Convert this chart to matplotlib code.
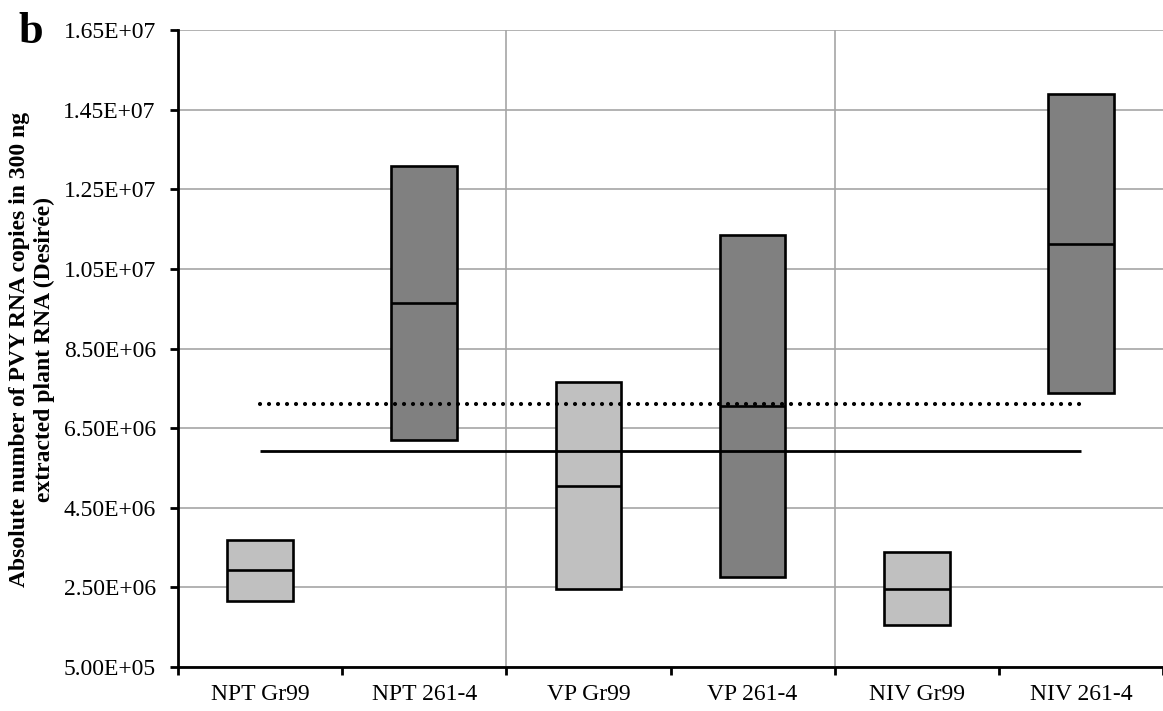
import matplotlib
matplotlib.use('Agg')
import matplotlib.pyplot as plt
import numpy as np

categories = ['NPT Gr99', 'NPT 261-4', 'VP Gr99', 'VP 261-4', 'NIV Gr99', 'NIV 261-4']
q_low = [2.17e6, 6.20e6, 2.47e6, 2.77e6, 1.56e6, 7.38e6]
medians = [2.93e6, 9.65e6, 5.04e6, 7.06e6, 2.46e6, 11.13e6]
q_high = [3.68e6, 13.08e6, 7.66e6, 11.35e6, 3.40e6, 14.88e6]
box_colors = ['#c0c0c0', '#808080', '#c0c0c0', '#808080', '#c0c0c0', '#808080']
dotted_level = 7.10e6
solid_level = 5.92e6
yticks = np.arange(0.5e6, 16.6e6, 2e6)

plt.rcParams['font.family'] = ['Liberation Serif', 'DejaVu Serif']

fig = plt.figure(figsize=(11.63, 7.11), dpi=100)
ax = fig.add_axes([178 / 1163, 1 - 667 / 711, 1 - 178 / 1163, (667 - 30) / 711])

x = np.arange(len(categories)) + 0.5
lo = np.array(q_low)
hi = np.array(q_high)
ax.bar(x, hi - lo, bottom=lo, width=0.40, color=box_colors,
       edgecolor='black', linewidth=1.9, zorder=3)
ax.hlines(medians, x - 0.20, x + 0.20, colors='black', linewidth=1.9, zorder=4)

ax.plot([x[0], x[-1]], [dotted_level, dotted_level], color='black', lw=3.0,
        linestyle=(0, (0.01, 2.15)), dash_capstyle='round', zorder=5)
ax.plot([x[0], x[-1]], [solid_level, solid_level], color='black', lw=2.0,
        solid_capstyle='butt', zorder=5)

ax.set_xlim(0, 6)
ax.set_ylim(0.5e6, 16.5e6)
ax.set_yticks(yticks)
ax.set_yticklabels(['{:.2E}'.format(v) for v in yticks], fontsize=17)
ax.set_xticks(np.arange(0, 7))
ax.set_xticklabels([])
ax.set_xticks(x, minor=True)
ax.set_xticklabels(categories, minor=True, fontsize=17)
ax.tick_params(axis='x', which='minor', length=0, pad=12)
ax.tick_params(axis='x', which='major', direction='out', length=6, width=2)
ax.tick_params(axis='y', direction='out', length=6, width=2, pad=10)

ax.grid(axis='y', color='#a6a6a6', lw=1.2, zorder=0)
for gx in [2, 4]:
    ax.axvline(gx, color='#a6a6a6', lw=1.2, zorder=0)
ax.set_axisbelow(True)

for s in ['top', 'right']:
    ax.spines[s].set_visible(False)
for s in ['left', 'bottom']:
    ax.spines[s].set_linewidth(2)

fig.text(32 / 1163, 1 - 349 / 711,
         'Absolute number of PVY RNA copies in 300 ng\nextracted plant RNA (Desirée)',
         rotation=90, ha='center', va='center', fontsize=17, fontweight='bold',
         multialignment='center', linespacing=1.2)
fig.text(18 / 1163, 1 - 43 / 711, 'b', fontsize=32, fontweight='bold', ha='left', va='baseline')

fig.savefig('out.png', dpi=100)
